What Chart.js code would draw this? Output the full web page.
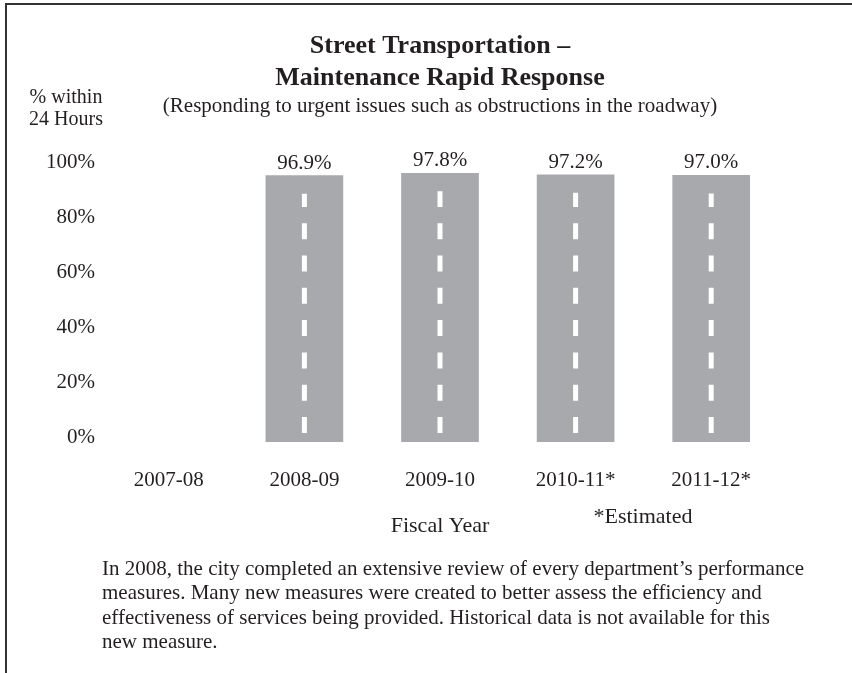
<!DOCTYPE html>
<html>
<head>
<meta charset="utf-8">
<title>Street Transportation – Maintenance Rapid Response</title>
<script src="https://cdn.jsdelivr.net/npm/chart.js@4.4.1/dist/chart.umd.min.js"></script>
<style>
  body { margin: 0; background: #fff; }
  #wrap { width: 852px; height: 673px; }
</style>
</head>
<body>
<div id="wrap"><canvas id="mycanvas" width="852" height="673"></canvas></div>
<script>
// fiscal years and % of urgent issues handled within 24 hours
var years = ['2007-08', '2008-09', '2009-10', '2010-11*', '2011-12*'];
var withinDay = [null, 96.9, 97.8, 97.2, 97.0];
var yTicks = [0, 20, 40, 60, 80, 100];

var titleLines = ['Street Transportation \u2013', 'Maintenance Rapid Response'];
var subTitle = '(Responding to urgent issues such as obstructions in the roadway)';
var axisNote = ['% within', '24 Hours'];
var footNote = '*Estimated';
var blurb = [
    'In 2008, the city completed an extensive review of every department\u2019s performance',
    'measures. Many new measures were created to better assess the efficiency and',
    'effectiveness of services being provided. Historical data is not available for this',
    'new measure.'
];

var ink = '#231f20';
var serif = "'Liberation Serif', 'Times New Roman', serif";

// frame, side label, footnote and the paragraph under the chart
var pageText = {
    id: 'pageText',
    afterDraw: function(chart) {
        var ctx = chart.ctx;
        ctx.save();
        ctx.strokeStyle = '#333';
        ctx.lineWidth = 2;
        ctx.beginPath();
        ctx.moveTo(852, 4);
        ctx.lineTo(6, 4);
        ctx.lineTo(6, 673);
        ctx.stroke();

        ctx.fillStyle = ink;
        ctx.textBaseline = 'alphabetic';
        ctx.font = '20px ' + serif;
        ctx.textAlign = 'center';
        ctx.fillText(axisNote[0], 66, 103);
        ctx.fillText(axisNote[1], 66, 125);

        ctx.font = '22px ' + serif;
        ctx.fillText(footNote, 643, 523);

        ctx.font = '21px ' + serif;
        ctx.textAlign = 'left';
        for (var i = 0; i < blurb.length; i++) {
            ctx.fillText(blurb[i], 102, 575 + i * 24.3);
        }
        ctx.restore();
    }
};

// white lane markings down each bar and the value above it
var roadBars = {
    id: 'roadBars',
    afterDatasetsDraw: function(chart) {
        var ctx = chart.ctx;
        var meta = chart.getDatasetMeta(0);
        ctx.save();
        meta.data.forEach(function(bar, i) {
            var v = withinDay[i];
            if (v == null) return;
            ctx.strokeStyle = '#fff';
            ctx.lineWidth = 5;
            ctx.setLineDash([16, 16.3]);
            ctx.beginPath();
            ctx.moveTo(bar.x, bar.base - 9);
            ctx.lineTo(bar.x, bar.y + 18);
            ctx.stroke();

            ctx.setLineDash([]);
            ctx.fillStyle = ink;
            ctx.font = '21px ' + serif;
            ctx.textAlign = 'center';
            ctx.textBaseline = 'alphabetic';
            ctx.fillText(v.toFixed(1) + '%', bar.x, bar.y - 7);
        });
        ctx.restore();
    }
};

var chartdata = {
    labels: years,
    datasets: [
        {
            label: 'Rapid Response',
            backgroundColor: '#a7a9ac',
            borderWidth: 0,
            barThickness: 77,
            data: withinDay
        }
    ]
};

var ctx = document.getElementById('mycanvas');

var BarGraph = new Chart(ctx, {
    type: 'bar',
    data: chartdata,
    plugins: [roadBars, pageText],
    options: {
        responsive: false,
        animation: false,
        layout: { padding: { left: 0, right: 73, top: 0, bottom: 134 } },
        plugins: {
            legend: { display: false },
            tooltip: { enabled: false },
            // titles span the plot width only, so they sit centred over the bars
            title: {
                display: true,
                fullSize: false,
                text: titleLines,
                color: ink,
                font: { family: serif, size: 26, weight: 'bold', lineHeight: 1.23 },
                padding: { top: 30, bottom: 0 }
            },
            subtitle: {
                display: true,
                fullSize: false,
                text: subTitle,
                color: ink,
                font: { family: serif, size: 21, lineHeight: 1.2 },
                padding: { top: 0, bottom: 48 }
            }
        },
        scales: {
            x: {
                grid: { display: false, drawTicks: false },
                border: { display: false },
                afterFit: function(scale) { scale.height = 97; },
                ticks: { color: ink, font: { family: serif, size: 21 }, padding: 26 },
                title: {
                    display: true,
                    text: 'Fiscal Year',
                    color: ink,
                    font: { family: serif, size: 22, lineHeight: 1.2 },
                    padding: { top: 0, bottom: 0 }
                }
            },
            y: {
                min: yTicks[0],
                max: yTicks[yTicks.length - 1],
                grid: { display: false, drawTicks: false },
                border: { display: false },
                afterFit: function(scale) { scale.width = 101; },
                ticks: {
                    stepSize: 20,
                    color: ink,
                    padding: 6,
                    labelOffset: -5,
                    font: { family: serif, size: 21 },
                    callback: function(value) { return value + '%'; }
                }
            }
        }
    }
});
</script>
</body>
</html>
